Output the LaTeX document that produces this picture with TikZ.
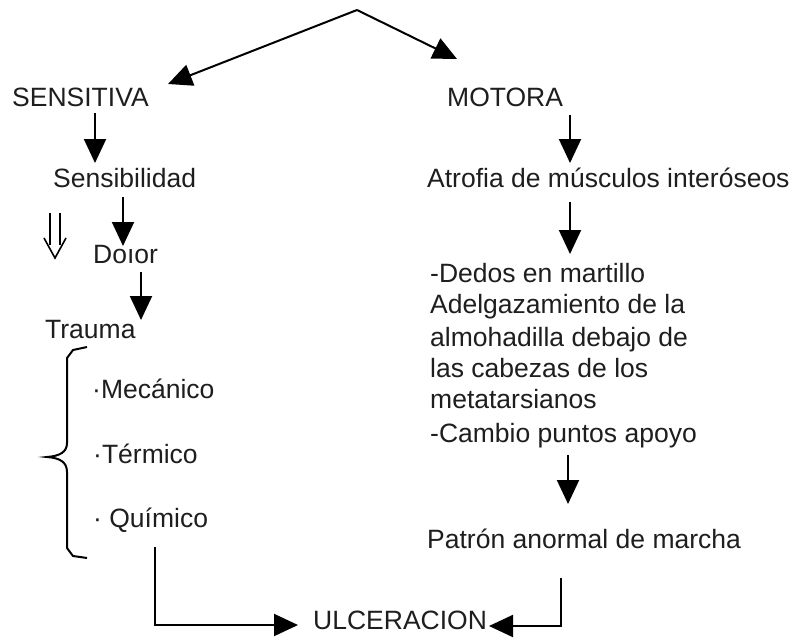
\documentclass[tikz,border=0pt]{standalone}
\usepackage{fontspec}
\setmainfont{Liberation Sans}
\usetikzlibrary{arrows.meta}
\definecolor{txt}{HTML}{1E1E1E}
\begin{document}
\begin{tikzpicture}[x=1pt,y=-1pt,
  lbl/.style={anchor=base west, inner sep=0pt, font=\fontsize{26.5}{32}\selectfont, text=txt},
  arr/.style={line width=2pt, -{Triangle[length=24pt,width=22pt]}},
  ln/.style={line width=2pt}]
\useasboundingbox[fill=white] (0,0) rectangle (797,637);
% nodes
\node[lbl] (sens) at (12,106) {SENSITIVA};
\node[lbl] (mot) at (447,106) {MOTORA};
\node[lbl] (sensib) at (53,187) {Sensibilidad};
\node[lbl] (dolor) at (93,263) {Doıor};
\node[lbl] (trauma) at (45,338) {Trauma};
\node[lbl] (mec) at (92,398) {·Mecánico};
\node[lbl] (ter) at (93,463) {·Térmico};
\node[lbl] (qui) at (93,527) {· Químico};
\node[lbl] (atro) at (427,187) {Atrofia de músculos interóseos};
\node[lbl] (r1) at (430,282) {-Dedos en martillo};
\node[lbl] (r2) at (430,313) {Adelgazamiento de la};
\node[lbl] (r3) at (430,346) {almohadilla debajo de};
\node[lbl] (r4) at (430,377) {las cabezas de los};
\node[lbl] (r5) at (430,408) {metatarsianos};
\node[lbl] (r6) at (430,442) {-Cambio puntos apoyo};
\node[lbl] (pat) at (427,548) {Patrón anormal de marcha};
\node[lbl] (ulc) at (313,629) {ULCERACION};
% connector end points
\coordinate (apex) at (357,10);
\coordinate (sensIn) at (168,84);
\coordinate (motIn) at (457,59);
\coordinate (a1) at (95,113);   \coordinate (a1e) at (95,163);
\coordinate (a2) at (123,197);  \coordinate (a2e) at (123,246);
\coordinate (a3) at (141,272);  \coordinate (a3e) at (141,320);
\coordinate (b1) at (570,115);  \coordinate (b1e) at (570,163);
\coordinate (b2) at (570,202);  \coordinate (b2e) at (570,254);
\coordinate (b3) at (568,455);  \coordinate (b3e) at (568,504);
\coordinate (lq) at (155,547);  \coordinate (ulcL) at (298,625);
\coordinate (rp) at (561,578);  \coordinate (ulcR) at (489,626);
% connectors
\draw[arr] (apex) -- (sensIn);
\draw[arr] (apex) -- (motIn);
\draw[arr] (a1) -- (a1e);
\draw[arr] (a2) -- (a2e);
\draw[arr] (a3) -- (a3e);
\draw[arr] (b1) -- (b1e);
\draw[arr] (b2) -- (b2e);
\draw[arr] (b3) -- (b3e);
\draw[arr] (lq) |- (ulcL);
\draw[arr] (rp) |- (ulcR);
% double arrow
\coordinate (d1) at (50,213); \coordinate (d2) at (60,213);
\draw[line width=1.6pt] (d1) -- ++(0,32);
\draw[line width=1.6pt] (d2) -- ++(0,32);
\draw[line width=1.6pt, line join=miter] (44,238) -- (55,258) -- (66,238);
% brace
\draw[ln] (87,347) -- (73,350) -- (67,358) -- (67,443)
  .. controls (67,452) and (60,456) .. (47,457)
  .. controls (60,458) and (67,462) .. (67,472)
  -- (67,548) -- (73,556) -- (87,558);
\end{tikzpicture}
\end{document}
